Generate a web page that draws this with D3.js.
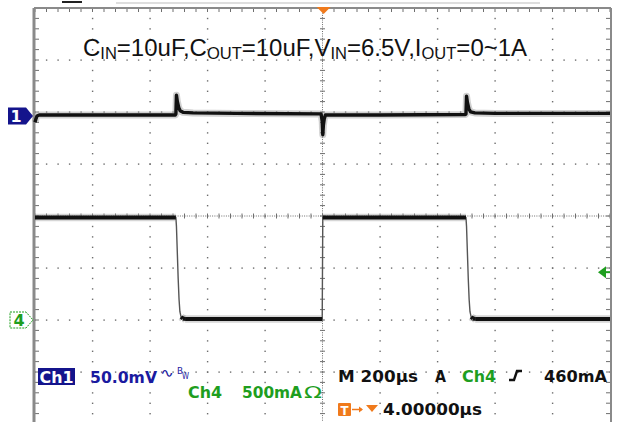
<!DOCTYPE html>
<html><head><meta charset="utf-8">
<script src="https://cdn.jsdelivr.net/npm/d3@7"></script>
<style>html,body{margin:0;padding:0;background:#fff}svg{display:block}</style>
</head><body>
<script>
// ---- data ----
const titleParts = [["C",0],["IN",1],["=10uF,C",0],["OUT",1],["=10uF,V",0],["IN",1],["=6.5V,I",0],["OUT",1],["=0~1A",0]];
// Ch1 output ripple (mV) vs time (µs, trigger at 0)
const ch1Time = [-1000,-997,-993,-985,-700,-512,-510,-508,-505,-500,-495,-485,-450,-300,-5,-1,1,3,6,10,200,497,499,501,504,509,515,530,600,1000];
const ch1mV   = [-6,-3,0,1,1,1,2,20,14,8,5,3.5,3,2.5,2,-5,-18,-9,-3,1,1,1.5,2,19,13,7,4,3,2.5,2.5];
// Ch4 load current (mA)
const ch4Time = [-1000,-510,-508,-505,-502,-499,-496,-492,-486,-478,-1,1,499,501,504,507,510,513,517,523,531,1000];
const ch4mA   = [985,985,900,650,400,200,80,30,15,10,10,985,985,900,650,400,200,80,30,15,10,10];
const timeDivs = 10, voltDivs = 8;
const timePerDiv = 200; // µs
const ch1Scale = 50;    // mV/div
const ch4Scale = 500;   // mA/div
const trigLevel = 460;  // mA

const W = 617, H = 422;
const svg = d3.select("body").append("svg").attr("width", W).attr("height", H);

const leftX = 35, rightX = 610, topY = 8, divH = 52;
const x = d3.scaleLinear().domain([-timeDivs/2*timePerDiv, timeDivs/2*timePerDiv]).range([leftX, rightX]);
const yDiv = d3.scaleLinear().domain([0, voltDivs]).range([topY, topY + voltDivs*divH]);
const ch1Zero = 116, ch4Zero = 320;
const y1 = d3.scaleLinear().domain([0, ch1Scale]).range([ch1Zero, ch1Zero - divH]);
const y4 = d3.scaleLinear().domain([0, ch4Scale]).range([ch4Zero, ch4Zero - divH]);

const g = svg.append("g");
const gridCol = "#6e6e6e";
const xMinor = (rightX-leftX)/timeDivs/5, yMinor = divH/5;

// dotted graticule
for (let i = 1; i < timeDivs; i++) {
  if (i === timeDivs/2) continue;
  const xv = x(-1000 + i*timePerDiv);
  for (let k = 0; k <= voltDivs*5; k++) {
    g.append("rect").attr("x", xv-0.6).attr("y", yDiv(0)+k*yMinor-0.6).attr("width",1.4).attr("height",1.4).attr("fill", gridCol);
  }
}
for (let j = 1; j < voltDivs; j++) {
  if (j === voltDivs/2) continue;
  const yv = yDiv(j);
  for (let k = 0; k <= timeDivs*5; k++) {
    g.append("rect").attr("x", leftX+k*xMinor-0.6).attr("y", yv-0.6).attr("width",1.4).attr("height",1.4).attr("fill", gridCol);
  }
}
// center cross lines
const cx = x(0), cy = yDiv(voltDivs/2);
g.append("line").attr("x1",leftX).attr("x2",rightX).attr("y1",cy).attr("y2",cy).attr("stroke",gridCol).attr("stroke-width",1).attr("stroke-dasharray","1,1.3");
g.append("line").attr("x1",cx).attr("x2",cx).attr("y1",topY).attr("y2",H).attr("stroke",gridCol).attr("stroke-width",1).attr("stroke-dasharray","1,1.3");
for (let k = 0; k <= timeDivs*5; k++) {
  const xv = leftX + k*xMinor;
  g.append("line").attr("x1",xv).attr("x2",xv).attr("y1",cy-2.5).attr("y2",cy+2.5).attr("stroke",gridCol).attr("stroke-width",1);
  g.append("line").attr("x1",xv).attr("x2",xv).attr("y1",topY).attr("y2",topY+4).attr("stroke",gridCol).attr("stroke-width",1);
}
for (let k = 0; k <= voltDivs*5; k++) {
  const yv = topY + k*yMinor;
  g.append("line").attr("x1",cx-2.5).attr("x2",cx+2.5).attr("y1",yv).attr("y2",yv).attr("stroke",gridCol).attr("stroke-width",1);
  g.append("line").attr("x1",leftX).attr("x2",leftX+4).attr("y1",yv).attr("y2",yv).attr("stroke",gridCol).attr("stroke-width",1);
  g.append("line").attr("x1",rightX-4).attr("x2",rightX).attr("y1",yv).attr("y2",yv).attr("stroke",gridCol).attr("stroke-width",1);
}
// border
g.append("line").attr("x1",leftX-1).attr("x2",rightX+1).attr("y1",topY).attr("y2",topY).attr("stroke","#8a8a8a").attr("stroke-width",2);
g.append("line").attr("x1",leftX-1).attr("x2",leftX-1).attr("y1",topY).attr("y2",H).attr("stroke","#8a8a8a").attr("stroke-width",3);
g.append("line").attr("x1",rightX+1).attr("x2",rightX+1).attr("y1",topY).attr("y2",H).attr("stroke","#8a8a8a").attr("stroke-width",2);

// header fragments above the screen
g.append("line").attr("x1",116).attr("x2",540).attr("y1",3).attr("y2",3).attr("stroke","#bdbdbd").attr("stroke-width",1);
g.append("line").attr("x1",62).attr("x2",82).attr("y1",2).attr("y2",2).attr("stroke","#222").attr("stroke-width",2);

// traces
const line1 = d3.line().x((d,i)=>x(ch1Time[i])).y((d,i)=>y1(ch1mV[i]));
const tr = svg.append("g");
tr.append("path").attr("d", line1(ch1Time)).attr("fill","none").attr("stroke","#999").attr("stroke-opacity",0.45).attr("stroke-width",7).attr("stroke-linejoin","round");
tr.append("path").attr("d", line1(ch1Time)).attr("fill","none").attr("stroke","#111").attr("stroke-width",3.4).attr("stroke-linejoin","round");

// ch4: edges drawn thin (fast transitions), settled levels thick
const idx4 = ch4Time.map((d,i)=>i);
const settled = i => Math.abs(ch4mA[i]-985) < 20 || ch4mA[i] < 35;
const line4all = d3.line().x(i=>x(ch4Time[i])).y(i=>y4(ch4mA[i]));
const flatSegs = [];
for (let i = 0; i < idx4.length-1; i++) {
  if (settled(i) && settled(i+1) && Math.abs(ch4mA[i]-ch4mA[i+1]) < 40) flatSegs.push([i,i+1]);
}
tr.append("path").attr("d", line4all(idx4)).attr("fill","none").attr("stroke","#555").attr("stroke-width",1.4).attr("stroke-linejoin","round");
flatSegs.forEach(s => {
  tr.append("path").attr("d", line4all(s)).attr("fill","none").attr("stroke","#999").attr("stroke-opacity",0.4).attr("stroke-width",7.5).attr("stroke-linecap","butt");
});
flatSegs.forEach(s => {
  tr.append("path").attr("d", line4all(s)).attr("fill","none").attr("stroke","#111").attr("stroke-width",4).attr("stroke-linecap","butt");
});

// title
const title = svg.append("text").attr("x", 83).attr("y", 56).attr("font-family","'Liberation Sans', Arial, sans-serif").attr("font-size",24).attr("fill","#111");
titleParts.forEach(([t,sub], i) => {
  const prevSub = i>0 ? titleParts[i-1][1] : 0;
  const ts = title.append("tspan").text(t).attr("dy", sub && !prevSub ? 3 : (!sub && prevSub ? -3 : 0));
  if (sub) ts.attr("font-size",16.5);
});

// trigger position marker (top)
const orange = "#f07a1c";
svg.append("path").attr("d", d3.line()([[x(4)-7,topY-1],[x(4)+7,topY-1],[x(4),topY+6]])).attr("fill",orange);

// channel 1 marker
const blue = "#14148c";
const m1 = svg.append("g");
m1.append("path").attr("d", d3.line()([[8,y1(0)-8.5],[26,y1(0)-8.5],[33,y1(0)],[26,y1(0)+8.5],[8,y1(0)+8.5]])+"Z").attr("fill",blue);
m1.append("text").attr("x",16).attr("y",y1(0)+6).attr("text-anchor","middle").attr("font-family","'DejaVu Sans', sans-serif").attr("font-weight","bold").attr("font-size",16).attr("fill","#fff").text("1");

// channel 4 marker
const green = "#1e9e1e";
const m4 = svg.append("g");
m4.append("path").attr("d", d3.line()([[10,y4(0)-8],[26,y4(0)-8],[33,y4(0)],[26,y4(0)+8],[10,y4(0)+8]])+"Z").attr("fill","#fff").attr("stroke",green).attr("stroke-width",1).attr("stroke-dasharray","2,1");
m4.append("text").attr("x",19).attr("y",y4(0)+6).attr("text-anchor","middle").attr("font-family","'DejaVu Sans', sans-serif").attr("font-weight","bold").attr("font-size",16).attr("fill",green).text("4");

// trigger level marker (right)
svg.append("path").attr("d", d3.line()([[598,y4(trigLevel)],[606,y4(trigLevel)-6],[606,y4(trigLevel)+6]])+"Z").attr("fill",green);
svg.append("line").attr("x1",604).attr("x2",610).attr("y1",y4(trigLevel)).attr("y2",y4(trigLevel)).attr("stroke",green).attr("stroke-width",2);

// readouts
const ff = "'DejaVu Sans', Verdana, sans-serif";
function txt(xp, yp, s, col, len, size) {
  const t = svg.append("text").attr("x",xp).attr("y",yp).attr("font-family",ff).attr("font-weight","bold").attr("font-size",size||15).attr("fill",col).text(s);
  if (len) t.attr("textLength",len).attr("lengthAdjust","spacingAndGlyphs");
  return t;
}
svg.append("rect").attr("x",38).attr("y",368).attr("width",37).attr("height",17).attr("fill",blue);
txt(39.5, 383, "Ch1", "#fff", 34);
const blueTxt = "#1a1aa0";
txt(90, 383, "50.0mV", blueTxt, 67);
txt(160, 377, "∿", blueTxt, 14, 12).attr("font-weight","normal");
txt(177, 374, "B", blueTxt, 6, 8).attr("font-weight","normal");
txt(182, 379, "W", blueTxt, 7, 8).attr("font-weight","normal");
txt(188, 398, "Ch4", green, 34);
txt(242, 398, "500mA", green, 60);
txt(304, 398, "Ω", green, 18).attr("font-weight","normal");

txt(338, 382, "M 200µs", "#111", 80);
txt(435, 382, "A", "#111", 11);
txt(462, 382, "Ch4", green, 34);
svg.append("path").attr("d","M509,380 L514,380 L517,371 L522,371").attr("fill","none").attr("stroke","#111").attr("stroke-width",2.4);
txt(544, 382, "460mA", "#111", 63);

svg.append("rect").attr("x",338).attr("y",403).attr("width",13).attr("height",13).attr("fill",orange).attr("rx",1);
txt(340.5, 414.5, "T", "#fff", 8, 12);
svg.append("line").attr("x1",352).attr("x2",362).attr("y1",409.5).attr("y2",409.5).attr("stroke",orange).attr("stroke-width",1.5);
svg.append("path").attr("d","M359,406.5 L363,409.5 L359,412.5").attr("fill",orange);
svg.append("path").attr("d","M366,405 L378,405 L372,412").attr("fill",orange);
txt(383, 415, "4.00000µs", "#111", 99);
</script>
</body></html>
